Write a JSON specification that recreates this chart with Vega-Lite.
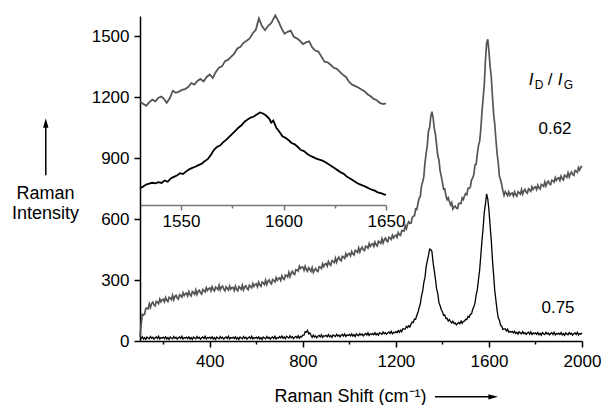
{
"$schema":"https://vega.github.io/schema/vega-lite/v6.json",
"width":442,"height":325,
"autosize":"none",
"padding":{"left":140,"top":16,"right":21,"bottom":64},
"config":{"view":{"stroke":null},"font":"Liberation Sans",
 "axis":{"labelFont":"Liberation Sans","titleFont":"Liberation Sans","labelFontSize":17,"titleFontSize":18,"labelColor":"#000","titleColor":"#000","titleFontWeight":"normal","domainColor":"#000","tickColor":"#000","domainWidth":1.5,"tickWidth":1.5,"grid":false,"labelFlush":false,"labelBound":false,"labelOverlap":false}},
"datasets":{
"main":[
{"x":100,"g":20,"b":10},{"x":105,"g":81,"b":12},{"x":110,"g":131,"b":21},{"x":115,"g":128,"b":10},{"x":120,"g":133,"b":17},{"x":125,"g":160,"b":8},{"x":130,"g":162,"b":20},{"x":135,"g":158,"b":15},{"x":140,"g":183,"b":11},{"x":145,"g":165,"b":22},{"x":150,"g":184,"b":13},{"x":155,"g":191,"b":18},{"x":160,"g":178,"b":9},{"x":165,"g":173,"b":16},{"x":170,"g":195,"b":20},{"x":175,"g":191,"b":12},{"x":180,"g":184,"b":23},{"x":185,"g":206,"b":10},{"x":190,"g":193,"b":17},{"x":195,"g":203,"b":14},
{"x":200,"g":206,"b":19},{"x":205,"g":193,"b":12},{"x":210,"g":214,"b":21},{"x":215,"g":200,"b":10},{"x":220,"g":194,"b":17},{"x":225,"g":215,"b":8},{"x":230,"g":211,"b":20},{"x":235,"g":204,"b":15},{"x":240,"g":225,"b":11},{"x":245,"g":203,"b":22},{"x":250,"g":219,"b":13},{"x":255,"g":225,"b":18},{"x":260,"g":212,"b":9},{"x":265,"g":206,"b":16},{"x":270,"g":228,"b":20},{"x":275,"g":223,"b":12},{"x":280,"g":216,"b":23},{"x":285,"g":237,"b":10},{"x":290,"g":224,"b":17},{"x":295,"g":233,"b":14},
{"x":300,"g":236,"b":19},{"x":305,"g":222,"b":12},{"x":310,"g":243,"b":21},{"x":315,"g":229,"b":10},{"x":320,"g":222,"b":17},{"x":325,"g":243,"b":8},{"x":330,"g":238,"b":20},{"x":335,"g":230,"b":15},{"x":340,"g":251,"b":11},{"x":345,"g":229,"b":22},{"x":350,"g":244,"b":13},{"x":355,"g":250,"b":18},{"x":360,"g":237,"b":9},{"x":365,"g":231,"b":16},{"x":370,"g":253,"b":20},{"x":375,"g":248,"b":12},{"x":380,"g":241,"b":23},{"x":385,"g":262,"b":10},{"x":390,"g":249,"b":17},{"x":395,"g":258,"b":14},
{"x":400,"g":261,"b":19},{"x":405,"g":247,"b":12},{"x":410,"g":267,"b":21},{"x":415,"g":253,"b":10},{"x":420,"g":246,"b":17},{"x":425,"g":266,"b":8},{"x":430,"g":261,"b":20},{"x":435,"g":253,"b":15},{"x":440,"g":274,"b":11},{"x":445,"g":251,"b":22},{"x":450,"g":266,"b":13},{"x":455,"g":270,"b":18},{"x":460,"g":255,"b":9},{"x":465,"g":247,"b":16},{"x":470,"g":267,"b":20},{"x":475,"g":260,"b":12},{"x":480,"g":251,"b":23},{"x":485,"g":270,"b":10},{"x":490,"g":255,"b":17},{"x":495,"g":263,"b":14},
{"x":500,"g":264,"b":19},{"x":505,"g":249,"b":12},{"x":510,"g":270,"b":21},{"x":515,"g":255,"b":10},{"x":520,"g":248,"b":17},{"x":525,"g":268,"b":8},{"x":530,"g":262,"b":20},{"x":535,"g":254,"b":15},{"x":540,"g":274,"b":11},{"x":545,"g":251,"b":22},{"x":550,"g":266,"b":13},{"x":555,"g":272,"b":18},{"x":560,"g":258,"b":9},{"x":565,"g":253,"b":16},{"x":570,"g":274,"b":20},{"x":575,"g":269,"b":12},{"x":580,"g":262,"b":23},{"x":585,"g":283,"b":10},{"x":590,"g":269,"b":17},{"x":595,"g":279,"b":14},
{"x":600,"g":281,"b":19},{"x":605,"g":267,"b":12},{"x":610,"g":289,"b":21},{"x":615,"g":275,"b":10},{"x":620,"g":269,"b":17},{"x":625,"g":290,"b":8},{"x":630,"g":286,"b":20},{"x":635,"g":278,"b":15},{"x":640,"g":300,"b":11},{"x":645,"g":278,"b":22},{"x":650,"g":294,"b":13},{"x":655,"g":300,"b":18},{"x":660,"g":287,"b":9},{"x":665,"g":281,"b":16},{"x":670,"g":303,"b":20},{"x":675,"g":298,"b":12},{"x":680,"g":291,"b":23},{"x":685,"g":312,"b":10},{"x":690,"g":299,"b":17},{"x":695,"g":308,"b":14},
{"x":700,"g":311,"b":22},{"x":705,"g":298,"b":15},{"x":710,"g":321,"b":24},{"x":715,"g":308,"b":13},{"x":720,"g":303,"b":20},{"x":725,"g":325,"b":11},{"x":730,"g":322,"b":23},{"x":735,"g":315,"b":18},{"x":740,"g":338,"b":14},{"x":745,"g":317,"b":25},{"x":750,"g":334,"b":16},{"x":755,"g":343,"b":21},{"x":760,"g":331,"b":12},{"x":765,"g":328,"b":19},{"x":770,"g":352,"b":23},{"x":775,"g":350,"b":15},{"x":780,"g":344,"b":26},{"x":785,"g":368,"b":14},{"x":790,"g":357,"b":22},{"x":795,"g":364,"b":21},
{"x":800,"g":364,"b":29},{"x":805,"g":348,"b":29},{"x":810,"g":368,"b":46},{"x":815,"g":352,"b":43},{"x":820,"g":343,"b":52},{"x":825,"g":361,"b":35},{"x":830,"g":354,"b":40},{"x":835,"g":343,"b":28},{"x":840,"g":361,"b":18},{"x":845,"g":337,"b":29},{"x":850,"g":349,"b":20},{"x":855,"g":357,"b":25},{"x":860,"g":346,"b":16},{"x":865,"g":342,"b":24},{"x":870,"g":365,"b":28},{"x":875,"g":363,"b":20},{"x":880,"g":357,"b":31},{"x":885,"g":380,"b":18},{"x":890,"g":367,"b":26},{"x":895,"g":378,"b":23},
{"x":900,"g":381,"b":28},{"x":905,"g":369,"b":21},{"x":910,"g":391,"b":31},{"x":915,"g":379,"b":20},{"x":920,"g":373,"b":27},{"x":925,"g":396,"b":18},{"x":930,"g":392,"b":30},{"x":935,"g":386,"b":26},{"x":940,"g":408,"b":22},{"x":945,"g":388,"b":33},{"x":950,"g":404,"b":24},{"x":955,"g":412,"b":29},{"x":960,"g":399,"b":20},{"x":965,"g":395,"b":28},{"x":970,"g":417,"b":32},{"x":975,"g":414,"b":24},{"x":980,"g":407,"b":35},{"x":985,"g":430,"b":22},{"x":990,"g":417,"b":30},{"x":995,"g":428,"b":27},
{"x":1000,"g":431,"b":32},{"x":1005,"g":419,"b":25},{"x":1010,"g":441,"b":35},{"x":1015,"g":429,"b":24},{"x":1020,"g":423,"b":31},{"x":1025,"g":446,"b":22},{"x":1030,"g":442,"b":35},{"x":1035,"g":436,"b":30},{"x":1040,"g":458,"b":26},{"x":1045,"g":438,"b":37},{"x":1050,"g":454,"b":29},{"x":1055,"g":462,"b":34},{"x":1060,"g":449,"b":25},{"x":1065,"g":445,"b":32},{"x":1070,"g":467,"b":37},{"x":1075,"g":464,"b":29},{"x":1080,"g":457,"b":40},{"x":1085,"g":479,"b":27},{"x":1090,"g":466,"b":35},{"x":1095,"g":476,"b":32},
{"x":1100,"g":479,"b":37},{"x":1105,"g":466,"b":31},{"x":1110,"g":487,"b":40},{"x":1115,"g":474,"b":30},{"x":1120,"g":468,"b":37},{"x":1125,"g":491,"b":29},{"x":1130,"g":487,"b":41},{"x":1135,"g":481,"b":37},{"x":1140,"g":503,"b":33},{"x":1145,"g":483,"b":44},{"x":1150,"g":499,"b":36},{"x":1155,"g":507,"b":41},{"x":1160,"g":494,"b":33},{"x":1165,"g":489,"b":40},{"x":1170,"g":511,"b":45},{"x":1175,"g":507,"b":37},{"x":1180,"g":500,"b":48},{"x":1185,"g":521,"b":36},{"x":1190,"g":508,"b":43},{"x":1195,"g":518,"b":41},
{"x":1200,"g":521,"b":46},{"x":1205,"g":510,"b":41},{"x":1210,"g":534,"b":52},{"x":1215,"g":524,"b":43},{"x":1220,"g":520,"b":53},{"x":1225,"g":544,"b":46},{"x":1230,"g":542,"b":60},{"x":1235,"g":541,"b":58},{"x":1240,"g":568,"b":58},{"x":1245,"g":553,"b":72},{"x":1250,"g":574,"b":66},{"x":1255,"g":587,"b":75},{"x":1260,"g":579,"b":69},{"x":1265,"g":580,"b":83},{"x":1270,"g":607,"b":93},{"x":1275,"g":614,"b":91},{"x":1280,"g":617,"b":108},{"x":1285,"g":650,"b":107},{"x":1290,"g":647,"b":127},{"x":1295,"g":678,"b":141},
{"x":1300,"g":703,"b":164},{"x":1305,"g":711,"b":182},{"x":1310,"g":764,"b":221},{"x":1315,"g":783,"b":245},{"x":1320,"g":808,"b":287},{"x":1325,"g":878,"b":313},{"x":1330,"g":922,"b":365},{"x":1335,"g":963,"b":395},{"x":1340,"g":1033,"b":421},{"x":1345,"g":1050,"b":452},{"x":1350,"g":1104,"b":450},{"x":1355,"g":1129,"b":440},{"x":1360,"g":1099,"b":384},{"x":1365,"g":1047,"b":346},{"x":1370,"g":1017,"b":305},{"x":1375,"g":966,"b":257},{"x":1380,"g":912,"b":233},{"x":1385,"g":892,"b":190},{"x":1390,"g":837,"b":174},{"x":1395,"g":812,"b":154},
{"x":1400,"g":781,"b":144},{"x":1405,"g":748,"b":127},{"x":1410,"g":749,"b":128},{"x":1415,"g":716,"b":111},{"x":1420,"g":696,"b":112},{"x":1425,"g":705,"b":98},{"x":1430,"g":687,"b":105},{"x":1435,"g":670,"b":96},{"x":1440,"g":681,"b":89},{"x":1445,"g":650,"b":97},{"x":1450,"g":661,"b":86},{"x":1455,"g":664,"b":89},{"x":1460,"g":654,"b":79},{"x":1465,"g":652,"b":86},{"x":1470,"g":677,"b":91},{"x":1475,"g":678,"b":85},{"x":1480,"g":677,"b":98},{"x":1485,"g":704,"b":87},{"x":1490,"g":697,"b":97},{"x":1495,"g":715,"b":98},
{"x":1500,"g":726,"b":107},{"x":1505,"g":721,"b":106},{"x":1510,"g":751,"b":121},{"x":1515,"g":751,"b":117},{"x":1520,"g":758,"b":132},{"x":1525,"g":793,"b":133},{"x":1530,"g":802,"b":155},{"x":1535,"g":820,"b":168},{"x":1540,"g":866,"b":186},{"x":1545,"g":870,"b":227},{"x":1550,"g":921,"b":253},{"x":1555,"g":962,"b":303},{"x":1560,"g":984,"b":349},{"x":1565,"g":1042,"b":421},{"x":1570,"g":1127,"b":495},{"x":1575,"g":1196,"b":557},{"x":1580,"g":1262,"b":633},{"x":1585,"g":1382,"b":675},{"x":1590,"g":1467,"b":724},{"x":1595,"g":1485,"b":699},
{"x":1600,"g":1426,"b":644},{"x":1605,"g":1351,"b":567},{"x":1610,"g":1301,"b":496},{"x":1615,"g":1206,"b":400},{"x":1620,"g":1118,"b":327},{"x":1625,"g":1068,"b":248},{"x":1630,"g":992,"b":200},{"x":1635,"g":923,"b":150},{"x":1640,"g":878,"b":114},{"x":1645,"g":810,"b":102},{"x":1650,"g":794,"b":78},{"x":1655,"g":769,"b":73},{"x":1660,"g":739,"b":57},{"x":1665,"g":717,"b":60},{"x":1670,"g":735,"b":60},{"x":1675,"g":727,"b":49},{"x":1680,"g":716,"b":58},{"x":1685,"g":734,"b":43},{"x":1690,"g":717,"b":48},{"x":1695,"g":726,"b":43},
{"x":1700,"g":728,"b":47},{"x":1705,"g":714,"b":40},{"x":1710,"g":734,"b":48},{"x":1715,"g":720,"b":37},{"x":1720,"g":713,"b":43},{"x":1725,"g":735,"b":34},{"x":1730,"g":730,"b":45},{"x":1735,"g":723,"b":40},{"x":1740,"g":745,"b":36},{"x":1745,"g":723,"b":46},{"x":1750,"g":739,"b":36},{"x":1755,"g":746,"b":41},{"x":1760,"g":732,"b":32},{"x":1765,"g":727,"b":39},{"x":1770,"g":749,"b":43},{"x":1775,"g":744,"b":34},{"x":1780,"g":737,"b":45},{"x":1785,"g":759,"b":32},{"x":1790,"g":746,"b":39},{"x":1795,"g":756,"b":36},
{"x":1800,"g":759,"b":40},{"x":1805,"g":745,"b":33},{"x":1810,"g":767,"b":42},{"x":1815,"g":754,"b":31},{"x":1820,"g":748,"b":38},{"x":1825,"g":771,"b":29},{"x":1830,"g":767,"b":41},{"x":1835,"g":761,"b":36},{"x":1840,"g":783,"b":32},{"x":1845,"g":763,"b":43},{"x":1850,"g":779,"b":34},{"x":1855,"g":787,"b":39},{"x":1860,"g":774,"b":30},{"x":1865,"g":770,"b":37},{"x":1870,"g":792,"b":41},{"x":1875,"g":789,"b":32},{"x":1880,"g":782,"b":43},{"x":1885,"g":804,"b":30},{"x":1890,"g":791,"b":37},{"x":1895,"g":801,"b":34},
{"x":1900,"g":804,"b":39},{"x":1905,"g":790,"b":32},{"x":1910,"g":812,"b":41},{"x":1915,"g":799,"b":30},{"x":1920,"g":793,"b":37},{"x":1925,"g":816,"b":28},{"x":1930,"g":812,"b":40},{"x":1935,"g":806,"b":35},{"x":1940,"g":828,"b":31},{"x":1945,"g":808,"b":42},{"x":1950,"g":824,"b":33},{"x":1955,"g":832,"b":38},{"x":1960,"g":819,"b":29},{"x":1965,"g":815,"b":36},{"x":1970,"g":839,"b":40},{"x":1975,"g":836,"b":32},{"x":1980,"g":830,"b":43},{"x":1985,"g":854,"b":30},{"x":1990,"g":842,"b":37},{"x":1995,"g":855,"b":34},{"x":2000,"g":861,"b":39}
],
"ig":[
{"w":1530,"v":1178},{"w":1531.5,"v":1168},{"w":1533,"v":1158},{"w":1534.5,"v":1175},{"w":1536,"v":1188},{"w":1537.5,"v":1180},{"w":1539,"v":1198},{"w":1540.5,"v":1203},{"w":1542,"v":1188},{"w":1543,"v":1172},{"w":1544.5,"v":1195},{"w":1546,"v":1232},{"w":1547.5,"v":1222},{"w":1549,"v":1228},{"w":1550.5,"v":1236},{"w":1552,"v":1240},{"w":1553.5,"v":1250},{"w":1555,"v":1270},{"w":1556.5,"v":1262},{"w":1558,"v":1280},{"w":1559.5,"v":1290},{"w":1561,"v":1278},{"w":1562.5,"v":1300},{"w":1564,"v":1312},{"w":1565.5,"v":1295},{"w":1567,"v":1325},{"w":1568.5,"v":1345},{"w":1570,"v":1352},{"w":1571.5,"v":1378},{"w":1573,"v":1385},{"w":1574.5,"v":1400},{"w":1576,"v":1415},{"w":1577.5,"v":1440},{"w":1579,"v":1448},{"w":1580.5,"v":1468},{"w":1582,"v":1478},{"w":1583.5,"v":1490},{"w":1585,"v":1515},{"w":1586.5,"v":1532},{"w":1588,"v":1588},{"w":1589.5,"v":1550},{"w":1591,"v":1530},{"w":1592.5,"v":1552},{"w":1594,"v":1565},{"w":1596,"v":1603},{"w":1597.5,"v":1575},{"w":1599,"v":1540},{"w":1600.5,"v":1513},{"w":1602,"v":1522},{"w":1603.5,"v":1528},{"w":1605,"v":1498},{"w":1606.5,"v":1490},{"w":1608,"v":1478},{"w":1609.5,"v":1462},{"w":1611,"v":1470},{"w":1612.5,"v":1475},{"w":1614,"v":1445},{"w":1615.5,"v":1430},{"w":1617,"v":1425},{"w":1618.5,"v":1400},{"w":1620,"v":1375},{"w":1621.5,"v":1372},{"w":1623,"v":1360},{"w":1624.5,"v":1345},{"w":1626,"v":1340},{"w":1627.5,"v":1325},{"w":1629,"v":1310},{"w":1630.5,"v":1300},{"w":1632,"v":1275},{"w":1633.5,"v":1262},{"w":1635,"v":1255},{"w":1636.5,"v":1248},{"w":1638,"v":1238},{"w":1639.5,"v":1230},{"w":1641,"v":1215},{"w":1642.5,"v":1205},{"w":1644,"v":1192},{"w":1645.5,"v":1185},{"w":1647,"v":1172},{"w":1648.5,"v":1166},{"w":1650,"v":1170}
],
"ib":[
{"w":1530,"v":752},{"w":1531.5,"v":760},{"w":1533,"v":770},{"w":1534.5,"v":775},{"w":1536,"v":779},{"w":1537.5,"v":776},{"w":1539,"v":782},{"w":1540.5,"v":778},{"w":1542,"v":790},{"w":1543.5,"v":784},{"w":1545,"v":800},{"w":1546.5,"v":808},{"w":1548,"v":815},{"w":1549.5,"v":826},{"w":1551,"v":822},{"w":1552.5,"v":835},{"w":1554,"v":845},{"w":1555.5,"v":852},{"w":1557,"v":858},{"w":1558.5,"v":866},{"w":1560,"v":872},{"w":1561.5,"v":885},{"w":1563,"v":895},{"w":1564.5,"v":915},{"w":1566,"v":940},{"w":1567.5,"v":955},{"w":1569,"v":962},{"w":1570.5,"v":978},{"w":1572,"v":990},{"w":1573.5,"v":1005},{"w":1575,"v":1020},{"w":1576.5,"v":1035},{"w":1578,"v":1050},{"w":1579.5,"v":1062},{"w":1581,"v":1080},{"w":1582.5,"v":1090},{"w":1584,"v":1100},{"w":1585.5,"v":1105},{"w":1587,"v":1115},{"w":1588.5,"v":1125},{"w":1590,"v":1120},{"w":1591.5,"v":1110},{"w":1593,"v":1095},{"w":1594,"v":1075},{"w":1595,"v":1085},{"w":1596.5,"v":1050},{"w":1598,"v":1030},{"w":1599.5,"v":1008},{"w":1601,"v":1000},{"w":1602.5,"v":988},{"w":1604,"v":975},{"w":1605.5,"v":968},{"w":1607,"v":955},{"w":1608.5,"v":940},{"w":1610,"v":935},{"w":1611.5,"v":922},{"w":1613,"v":912},{"w":1614.5,"v":905},{"w":1616,"v":898},{"w":1617.5,"v":893},{"w":1619,"v":888},{"w":1620.5,"v":880},{"w":1622,"v":870},{"w":1623.5,"v":860},{"w":1625,"v":850},{"w":1626.5,"v":840},{"w":1628,"v":830},{"w":1629.5,"v":822},{"w":1631,"v":808},{"w":1632.5,"v":800},{"w":1634,"v":790},{"w":1635.5,"v":780},{"w":1637,"v":772},{"w":1638.5,"v":766},{"w":1640,"v":760},{"w":1641.5,"v":752},{"w":1643,"v":745},{"w":1644.5,"v":740},{"w":1646,"v":732},{"w":1647.5,"v":728},{"w":1649,"v":722},{"w":1650,"v":720}
],
"notes":[{"t":"0.62","x":1884,"y":1018},{"t":"0.75","x":1897,"y":138}],
"ratioI":[{"t":"I","x":1771,"y":1259},{"t":"I","x":1896,"y":1259}],
"ratioSub":[{"t":"D","x":1797,"y":1239},{"t":"G","x":1922,"y":1239}],
"slash":[{"t":"/","x":1853,"y":1259}],
"rules":[{"x":-305,"x2":-305,"y":816,"y2":1057},{"x":1368,"x2":1605,"y":-275,"y2":-275}],
"heads":[{"x":-305,"y":1067,"s":"up"},{"x":1613,"y":-275,"s":"right"}]
},
"layer":[
 {"layer":[
  {"data":{"name":"main"},"mark":{"type":"line","color":"#555555","strokeWidth":1.7},
   "encoding":{
    "x":{"field":"x","type":"quantitative","scale":{"domain":[100,2000],"nice":false,"zero":false},
     "axis":{"title":"Raman Shift (cm⁻¹)","titleX":210,"titleY":60,"titleAlign":"center","titleBaseline":"alphabetic","titleAnchor":null,
      "values":[200,400,600,800,1000,1200,1400,1600,1800,2000],"format":"d",
      "labelExpr":"datum.value % 400 === 0 ? datum.label : ''",
      "tickSize":{"condition":{"test":"datum.value % 400 === 0","value":6},"value":3},"labelPadding":6}},
    "y":{"field":"g","type":"quantitative","scale":{"domain":[0,1600],"nice":false,"zero":false},
     "axis":{"title":["Raman","Intensity"],"titleAngle":0,"titleX":-95,"titleY":182,"titleAlign":"center","titleBaseline":"alphabetic","titleLineHeight":20,"titleAnchor":null,
      "values":[0,150,300,450,600,750,900,1050,1200,1350,1500],"format":"d",
      "labelExpr":"datum.value % 300 === 0 ? datum.label : ''",
      "tickSize":{"condition":{"test":"datum.value % 300 === 0","value":6},"value":3},"labelPadding":5}}}},
  {"data":{"name":"main"},"mark":{"type":"line","color":"#000","strokeWidth":1.3},
   "encoding":{"x":{"field":"x","type":"quantitative"},"y":{"field":"b","type":"quantitative"}}},
  {"data":{"name":"notes"},"mark":{"type":"text","fontSize":17,"align":"center","baseline":"alphabetic","color":"#000"},
   "encoding":{"x":{"field":"x","type":"quantitative"},"y":{"field":"y","type":"quantitative"},"text":{"field":"t"}}},
  {"data":{"name":"ratioI"},"mark":{"type":"text","fontSize":17,"fontStyle":"italic","align":"left","baseline":"alphabetic","color":"#000"},
   "encoding":{"x":{"field":"x","type":"quantitative"},"y":{"field":"y","type":"quantitative"},"text":{"field":"t"}}},
  {"data":{"name":"ratioSub"},"mark":{"type":"text","fontSize":12,"align":"left","baseline":"alphabetic","color":"#000"},
   "encoding":{"x":{"field":"x","type":"quantitative"},"y":{"field":"y","type":"quantitative"},"text":{"field":"t"}}},
  {"data":{"name":"slash"},"mark":{"type":"text","fontSize":17,"align":"left","baseline":"alphabetic","color":"#000"},
   "encoding":{"x":{"field":"x","type":"quantitative"},"y":{"field":"y","type":"quantitative"},"text":{"field":"t"}}},
  {"data":{"name":"rules"},"mark":{"type":"rule","color":"#000","strokeWidth":1.5},
   "encoding":{"x":{"field":"x","type":"quantitative"},"x2":{"field":"x2"},"y":{"field":"y","type":"quantitative"},"y2":{"field":"y2"}}},
  {"data":{"name":"heads"},"mark":{"type":"point","filled":true,"color":"#000","opacity":1,"size":144},
   "encoding":{"x":{"field":"x","type":"quantitative"},"y":{"field":"y","type":"quantitative"},
    "shape":{"field":"s","type":"nominal","scale":{"domain":["up","right"],"range":["M0,-1L0.45,0.6L-0.45,0.6Z","M1,0L-0.6,0.45L-0.6,-0.45Z"]},"legend":null}}}
 ]},
 {"layer":[
  {"data":{"name":"ig"},"mark":{"type":"line","color":"#555555","strokeWidth":1.8},
   "encoding":{
    "x":{"field":"w","type":"quantitative","scale":{"domain":[1530,1650],"range":[0,246],"nice":false,"zero":false},
     "axis":{"orient":"bottom","offset":-136,"title":null,"values":[1550,1575,1600,1625,1650],"format":"d",
      "labelExpr":"datum.value % 50 === 0 ? datum.label : ''","domainColor":"#777","tickColor":"#777",
      "tickSize":{"condition":{"test":"datum.value % 50 === 0","value":5},"value":3},"labelPadding":3}},
    "y":{"field":"v","type":"quantitative"}}},
  {"data":{"name":"ib"},"mark":{"type":"line","color":"#000","strokeWidth":1.8},
   "encoding":{"x":{"field":"w","type":"quantitative"},"y":{"field":"v","type":"quantitative"}}}
 ]}
],
"resolve":{"scale":{"x":"independent"}}
}
